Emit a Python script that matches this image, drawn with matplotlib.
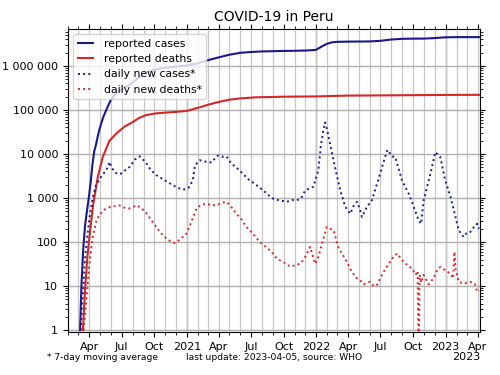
import pandas as pd
import matplotlib
matplotlib.use("Agg")
import matplotlib.pyplot as plt
import matplotlib.dates as mdates
import matplotlib.ticker as mticker

# cumulative reported cases
cases_dates = [
    "2020-03-06", "2020-03-10", "2020-03-15", "2020-03-20", "2020-03-25", "2020-03-31",
    "2020-04-05", "2020-04-10", "2020-04-15", "2020-04-20", "2020-04-25", "2020-04-30",
    "2020-05-10", "2020-05-20", "2020-05-31", "2020-06-15", "2020-06-30", "2020-07-15",
    "2020-07-31", "2020-08-15", "2020-08-31", "2020-09-15", "2020-09-30", "2020-10-31",
    "2020-11-30", "2020-12-31", "2021-01-31", "2021-02-28", "2021-03-31", "2021-04-30",
    "2021-05-31", "2021-06-30", "2021-07-31", "2021-08-31", "2021-09-30", "2021-10-31",
    "2021-11-30", "2021-12-31", "2022-01-15", "2022-01-31", "2022-02-15", "2022-02-28",
    "2022-03-31", "2022-04-30", "2022-05-31", "2022-06-30", "2022-07-31", "2022-08-31",
    "2022-09-30", "2022-10-31", "2022-11-30", "2022-12-31", "2023-01-31", "2023-02-28",
    "2023-04-05",
]
cases_total = [
    1, 11, 71, 234, 480, 1065,
    2281, 5897, 11475, 16325, 25331, 36976,
    67307, 104020, 164476, 232992, 285213, 337724,
    407492, 516296, 652037, 738020, 811768, 900180,
    962530, 1015137, 1134000, 1330000, 1548000, 1780000,
    1970000, 2060000, 2120000, 2150000, 2177000, 2195000,
    2221000, 2297000, 2700000, 3160000, 3420000, 3500000,
    3545000, 3560000, 3580000, 3690000, 3950000, 4100000,
    4140000, 4150000, 4260000, 4440000, 4480000, 4487000,
    4490000,
]

# cumulative reported deaths
deaths_dates = [
    "2020-03-14", "2020-03-20", "2020-03-27", "2020-04-04", "2020-04-12", "2020-04-25",
    "2020-05-09", "2020-05-28", "2020-06-18", "2020-07-10", "2020-07-31", "2020-08-20",
    "2020-09-08", "2020-10-05", "2020-11-04", "2020-12-01", "2021-01-01", "2021-02-07",
    "2021-03-01", "2021-03-27", "2021-04-30", "2021-05-31", "2021-07-15", "2021-10-01",
    "2021-12-31", "2022-03-31", "2022-07-31", "2022-10-31", "2023-01-31", "2023-04-05",
]
deaths_total = [
    1, 8, 50, 200, 700, 3000,
    8500, 20000, 30000, 42000, 52000, 66000,
    76000, 83000, 87000, 90000, 95000, 115000,
    130000, 148000, 170000, 182000, 193000, 199000,
    202000, 211000, 214000, 217000, 219000, 219500,
]

# daily new cases, 7-day average
new_cases_dates = [
    "2020-03-08", "2020-03-12", "2020-03-16", "2020-03-20", "2020-03-25", "2020-04-02",
    "2020-04-11", "2020-04-20", "2020-05-04", "2020-05-18", "2020-05-24", "2020-05-28",
    "2020-06-03", "2020-06-11", "2020-06-20", "2020-06-30", "2020-07-10", "2020-07-24",
    "2020-08-08", "2020-08-21", "2020-08-30", "2020-09-09", "2020-09-20", "2020-10-07",
    "2020-10-25", "2020-11-14", "2020-12-01", "2020-12-15", "2020-12-26", "2021-01-06",
    "2021-01-18", "2021-01-24", "2021-02-07", "2021-02-26", "2021-03-12", "2021-03-22",
    "2021-03-30", "2021-04-10", "2021-04-23", "2021-05-07", "2021-05-20", "2021-06-09",
    "2021-06-25", "2021-07-12", "2021-08-05", "2021-08-20", "2021-09-02", "2021-09-20",
    "2021-10-10", "2021-10-25", "2021-11-07", "2021-11-20", "2021-12-01", "2021-12-15",
    "2021-12-24", "2022-01-07", "2022-01-14", "2022-01-21", "2022-01-26", "2022-02-01",
    "2022-02-09", "2022-02-23", "2022-03-10", "2022-03-24", "2022-04-07", "2022-04-18",
    "2022-04-26", "2022-05-03", "2022-05-10", "2022-05-24", "2022-06-07", "2022-06-26",
    "2022-07-10", "2022-07-21", "2022-08-03", "2022-08-12", "2022-08-31", "2022-09-19",
    "2022-10-03", "2022-10-17", "2022-10-24", "2022-10-31", "2022-11-19", "2022-12-03",
    "2022-12-17", "2022-12-31", "2023-01-15", "2023-01-29", "2023-02-07", "2023-02-21",
    "2023-03-01", "2023-03-12", "2023-03-22", "2023-03-31", "2023-04-05",
]
new_cases = [
    1, 4, 12, 40, 110, 370,
    1050, 1950, 3000, 4200, 5200, 6600,
    5000, 3900, 3500, 3600, 4200, 5100,
    7500, 8800, 7600, 6100, 4500, 3300,
    2700, 2150, 1800, 1600, 1570, 1700,
    2500, 5500, 7200, 6600, 6400, 8000,
    9200, 8600, 8800, 6000, 5000, 3500,
    2600, 2100, 1480, 1150, 960, 880,
    820, 900, 880, 1000, 1480, 1700,
    1800, 4200, 15000, 34000, 52000, 35000,
    17000, 5000, 1480, 630, 440, 700,
    820, 600, 370, 630, 880, 2700,
    6600, 12400, 8800, 8500, 2500, 1250,
    630, 310, 260, 880, 3500, 11000,
    8500, 2500, 1050, 370, 185, 130,
    160, 170, 220, 260, 200,
]

# daily new deaths, 7-day average
new_deaths_dates = [
    "2020-03-16", "2020-03-24", "2020-04-01", "2020-04-10", "2020-04-21", "2020-04-30",
    "2020-05-15", "2020-05-28", "2020-06-10", "2020-06-26", "2020-07-10", "2020-07-24",
    "2020-08-12", "2020-08-25", "2020-09-09", "2020-09-25", "2020-10-07", "2020-10-20",
    "2020-10-31", "2020-11-15", "2020-11-28", "2020-12-10", "2020-12-31", "2021-01-15",
    "2021-01-28", "2021-02-10", "2021-02-26", "2021-03-12", "2021-03-26", "2021-04-10",
    "2021-04-23", "2021-05-05", "2021-05-21", "2021-06-05", "2021-06-18", "2021-07-05",
    "2021-07-26", "2021-08-19", "2021-09-01", "2021-09-12", "2021-09-30", "2021-10-19",
    "2021-11-07", "2021-11-20", "2021-12-01", "2021-12-15", "2021-12-22", "2021-12-29",
    "2022-01-07", "2022-01-20", "2022-01-31", "2022-02-10", "2022-02-19", "2022-03-04",
    "2022-03-29", "2022-04-10", "2022-04-26", "2022-05-05", "2022-05-15", "2022-05-24",
    "2022-06-02", "2022-06-12", "2022-06-21", "2022-07-10", "2022-08-03", "2022-08-17",
    "2022-09-05", "2022-09-20", "2022-09-29", "2022-10-08", "2022-10-14", "2022-10-17",
    "2022-10-20", "2022-10-24", "2022-10-31", "2022-11-14", "2022-11-28", "2022-12-10",
    "2022-12-17", "2022-12-31", "2023-01-15", "2023-01-22", "2023-01-26", "2023-01-29",
    "2023-02-07", "2023-02-21", "2023-03-12", "2023-03-25", "2023-03-31", "2023-04-05",
]
new_deaths = [
    1, 5, 30, 120, 300, 420,
    550, 620, 650, 680, 600, 580,
    680, 600, 450, 300, 220, 160,
    130, 105, 95, 110, 155, 300,
    570, 700, 740, 680, 700, 780,
    820, 650, 440, 320, 220, 160,
    100, 70, 55, 42, 35, 28,
    30, 34, 46, 78, 50, 32,
    46, 110, 220, 200, 185, 78,
    35, 22, 15, 13.6, 11, 11.8,
    12.5, 10, 10.5, 21, 42, 55,
    35, 28, 25, 18, 22, 0.3,
    18, 12, 18, 11, 15, 25,
    27, 23, 19, 15, 60, 25,
    12.5, 11.4, 12.5, 11, 7.4, 8,
]

blue = "#1a1a8c"
red = "#d62728"

fig = plt.figure(figsize=(5, 3.75), dpi=100)
ax = fig.add_axes([0.136, 0.115, 0.824, 0.808])

ax.plot(pd.to_datetime(cases_dates), cases_total, color=blue, lw=1.5, label="reported cases")
ax.plot(pd.to_datetime(deaths_dates), deaths_total, color=red, lw=1.5, label="reported deaths")
ax.plot(pd.to_datetime(new_cases_dates), new_cases, color=blue, lw=1.4, ls=":", label="daily new cases*")
ax.plot(pd.to_datetime(new_deaths_dates), new_deaths, color=red, lw=1.4, ls=":", label="daily new deaths*")

ax.set_yscale("log")
ax.set_ylim(0.915, 6.9e6)
ax.set_xlim(pd.Timestamp("2020-02-01"), pd.Timestamp("2023-04-08"))

ax.yaxis.set_major_locator(mticker.LogLocator(base=10, numticks=10))
ax.yaxis.set_major_formatter(mticker.FuncFormatter(lambda v, p: f"{int(round(v)):,}".replace(",", " ")))

locator = mdates.MonthLocator(bymonth=[1, 4, 7, 10])
fmt = mdates.ConciseDateFormatter(locator)
ax.xaxis.set_major_locator(locator)
ax.xaxis.set_major_formatter(fmt)
ax.xaxis.set_minor_locator(mdates.MonthLocator())
ax.xaxis.get_offset_text().set_visible(False)

ax.tick_params(which="both", top=True, right=True, labelsize=8)
ax.grid(axis="x", which="both", color="#c8c8c8", lw=0.9)
ax.grid(axis="y", which="major", color="#b0b0b0", lw=1)
for yr in ["2021-01-01", "2022-01-01", "2023-01-01"]:
    ax.axvline(pd.Timestamp(yr), color="#999999", lw=1, zorder=0.5)
ax.set_axisbelow(True)

ax.set_title("COVID-19 in Peru", fontsize=10)
ax.legend(loc="upper left", fontsize=7.8, handlelength=1.4, handletextpad=1.0, labelspacing=0.5)

# year offset under the last tick, like the concise date offset
ax.text(1.0, -0.068, "2023", transform=ax.transAxes, ha="right", va="top", fontsize=8)

fig.text(0.094, 0.04, "* 7-day moving average", fontsize=6.6)
fig.text(0.372, 0.04, "last update: 2023-04-05, source: WHO", fontsize=6.6)

fig.savefig("out.png", dpi=100)
